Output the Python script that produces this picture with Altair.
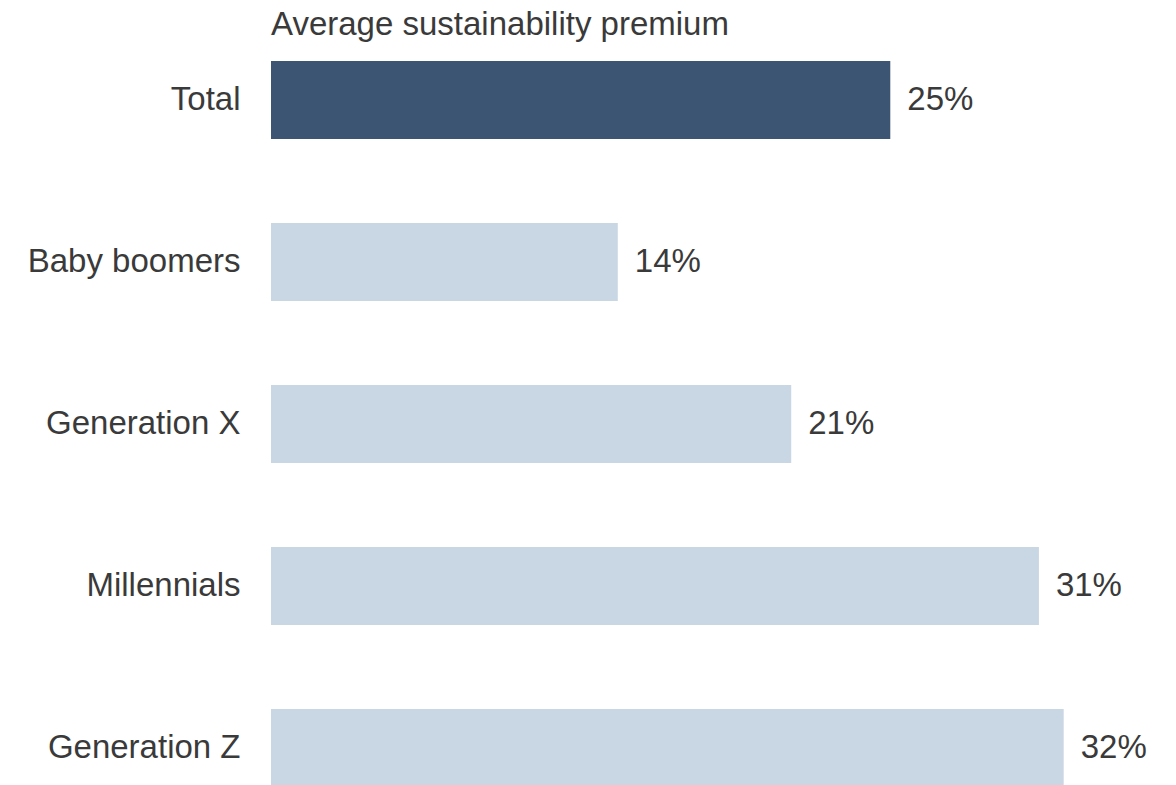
import altair as alt
import pandas as pd

categories = ["Total", "Baby boomers", "Generation X", "Millennials", "Generation Z"]
values = [25, 14, 21, 31, 32]
groups = ["total", "gen", "gen", "gen", "gen"]
title_text = "Average sustainability premium"

df = pd.DataFrame({
    "category": categories,
    "value": values,
    "group": groups,
    "label": [f"{v}%" for v in values],
})

FONT = "Liberation Sans"
TXT = "#3a3a3a"
FS = 33

y_enc = alt.Y(
    "category:N",
    sort=categories,
    scale=alt.Scale(paddingInner=0.5185, paddingOuter=0),
    axis=alt.Axis(
        title=None, domain=False, ticks=False, grid=False, labelLimit=0,
        labelFont=FONT, labelFontSize=FS, labelColor=TXT, labelPadding=31,
    ),
)
x_enc = alt.X("value:Q", scale=alt.Scale(domain=[0, 35], nice=False), axis=None)

bars = alt.Chart(df).mark_bar().encode(
    y=y_enc,
    x=x_enc,
    color=alt.Color(
        "group:N",
        scale=alt.Scale(domain=["total", "gen"], range=["#3b5572", "#c9d7e4"]),
        legend=None,
    ),
)

text = alt.Chart(df).mark_text(
    align="left", baseline="middle", dx=17, font=FONT, fontSize=FS, color=TXT
).encode(y=y_enc, x=x_enc, text="label:N")

title = alt.Chart(pd.DataFrame({"t": [title_text]})).mark_text(
    align="left", baseline="alphabetic", font=FONT, fontSize=FS, color=TXT
).encode(x=alt.value(0), y=alt.value(-26), text="t:N")

chart = (
    alt.layer(bars, text, title)
    .properties(
        width=867,
        height=726,
        autosize=alt.AutoSizeParams(type="none"),
        padding={"left": 263, "top": 53, "right": 30, "bottom": 0},
    )
    .configure_view(stroke=None)
)

chart.save("out.html", embed_options={"renderer": "svg", "actions": False})
